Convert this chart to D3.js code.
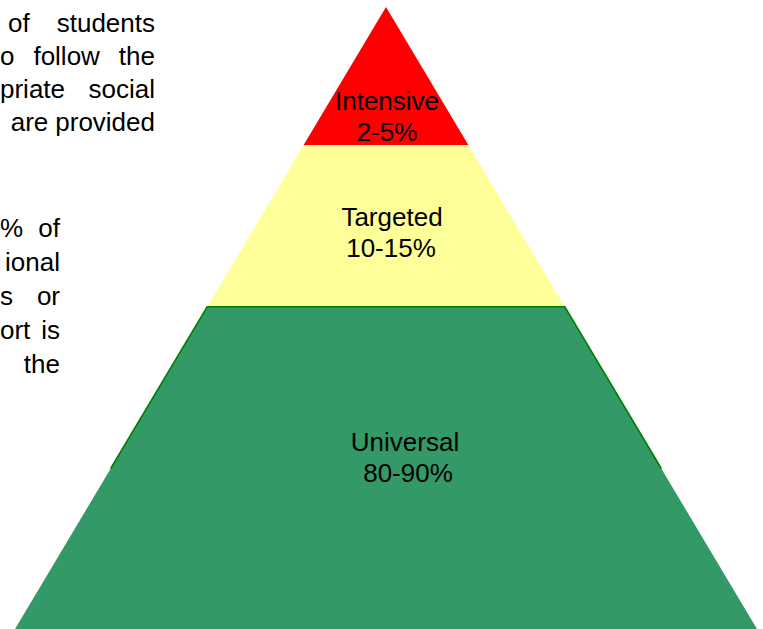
<!DOCTYPE html>
<html lang="en">
<head>
<meta charset="UTF-8">
<title>pyramid</title>
<style>
  html, body { margin: 0; padding: 0; background: #fff; overflow: hidden; }
  svg { display: block; }
  text { font-family: Arial, "Liberation Sans", sans-serif; fill: #000; }
</style>
</head>
<body>
<svg width="763" height="629"></svg>
<script src="https://d3js.org/d3.v7.min.js"></script>
<script>
// tiers, from the top of the pyramid down
var tiers = ["Intensive", "Targeted", "Universal"];
var ranges = ["2-5%", "10-15%", "80-90%"];
var colors = ["#ff0000", "#ffff99", "#339966"];
// where each tier ends, as a share of the pyramid height
var tierEnds = [0.222, 0.482, 1];

// left page text (cut off at the image edge), one array of words per line
var para1 = [["of", "students"], ["o", "follow", "the"], ["priate", "social"], ["are", "provided"]];
var para2 = [["%", "of"], ["ional"], ["s", "or"], ["ort", "is"], ["the"]];

var svg = d3.select("svg");

// pyramid geometry: y runs apex -> base, half width grows with y
var y = d3.scaleLinear().domain([0, 1]).range([7, 629]);
var halfW = d3.scaleLinear().domain([0, 1]).range([0, 371]);
var cx = 386;

var tierData = tiers.map(function (t, i) {
  return { name: t, range: ranges[i], color: colors[i], t0: i ? tierEnds[i - 1] : 0, t1: tierEnds[i] };
});

var pts = function (d) {
  return [
    [cx - halfW(d.t0), y(d.t0)], [cx + halfW(d.t0), y(d.t0)],
    [cx + halfW(d.t1), y(d.t1)], [cx - halfW(d.t1), y(d.t1)]
  ];
};

var g = svg.append("g");
g.selectAll("path.tier").data(tierData).enter().append("path")
  .attr("class", "tier")
  .attr("d", function (d) { return d3.line()(pts(d)) + "Z"; })
  .attr("fill", function (d) { return d.color; })
  .attr("stroke", "none");

// dark green outline on top of the universal tier (sides stop part way down)
var u = tierData[2];
var sideEnd = 0.742;
g.append("path")
  .attr("d", d3.line()([
    [cx - halfW(sideEnd), y(sideEnd)], [cx - halfW(u.t0), y(u.t0)],
    [cx + halfW(u.t0), y(u.t0)], [cx + halfW(sideEnd), y(sideEnd)]
  ]))
  .attr("fill", "none")
  .attr("stroke", "#008000")
  .attr("stroke-width", 1.6);

// label layout per tier: horizontal offsets and baseline of the first line
var labelLayout = [
  { dx: 1, dx2: 1, base: 110 },
  { dx: 6, dx2: 5, base: 226 },
  { dx: 19, dx2: 22, base: 451 }
];
var labels = g.selectAll("g.lab").data(tierData).enter().append("g").attr("class", "lab");
labels.append("text")
  .attr("x", function (d, i) { return cx + labelLayout[i].dx; })
  .attr("y", function (d, i) { return labelLayout[i].base; })
  .attr("text-anchor", "middle")
  .style("font-size", "26px")
  .text(function (d) { return d.name; });
labels.append("text")
  .attr("x", function (d, i) { return cx + labelLayout[i].dx2; })
  .attr("y", function (d, i) { return labelLayout[i].base + 31; })
  .attr("text-anchor", "middle")
  .style("font-size", "26px")
  .text(function (d) { return d.range; });

// justified paragraph lines: words laid out right to left from x1,
// spreading the gaps out to reach x0 when there is room
function justify(lines, x0s, x1, top, step) {
  lines.forEach(function (words, li) {
    var ty = top + li * step;
    var nodes = words.map(function (w) {
      return svg.append("text").attr("y", ty).style("font-size", "26px").text(w);
    });
    var widths = nodes.map(function (n) { return n.node().getComputedTextLength(); });
    var space = 7;
    var gap = words.length > 1 ? (x1 - x0s[li] - d3.sum(widths)) / (words.length - 1) : 0;
    gap = Math.max(gap, space);
    var x = x1;
    for (var k = nodes.length - 1; k >= 0; k--) {
      x -= widths[k];
      nodes[k].attr("x", x);
      x -= gap;
    }
  });
}
justify(para1, [8, 0, 0, 43], 155, 32, 33);
justify(para2, [0, 0, 0, 0, 0], 60, 237, 34);
</script>
</body>
</html>
